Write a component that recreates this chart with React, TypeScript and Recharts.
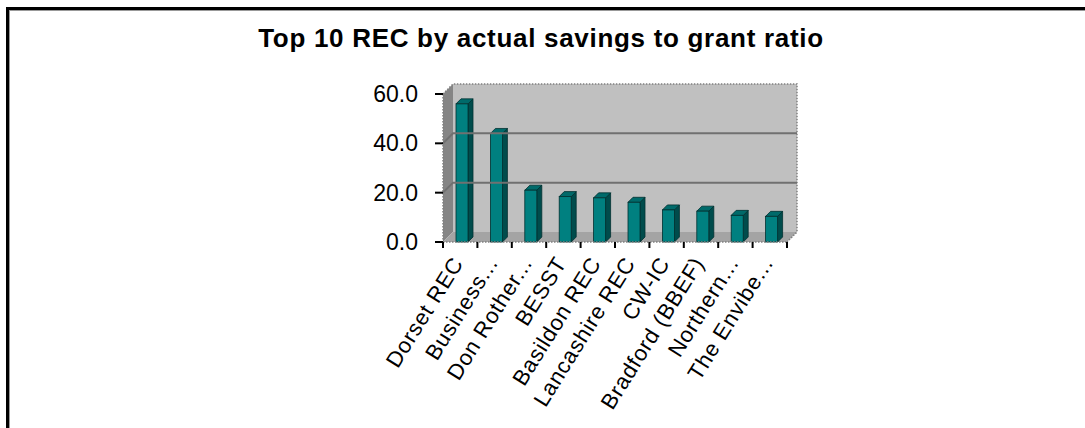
import React from "react";
import { BarChart, Bar, XAxis, YAxis, ReferenceLine } from "recharts";

// Top 10 REC ranked by actual savings / grant ratio
const recNames = [
  "Dorset REC",
  "Business...",
  "Don Rother...",
  "BESST",
  "Basildon REC",
  "Lancashire REC",
  "CW-IC",
  "Bradford (BBEF)",
  "Northern...",
  "The Envibe...",
];
const savingsRatio = [56.0, 44.0, 21.0, 18.4, 17.9, 16.1, 13.0, 12.5, 10.8, 10.4];
const yTicks = [0, 20, 40, 60];
const gridValues = [20, 40];

const data = recNames.map((name, i) => ({ name, ratio: savingsRatio[i] }));

// layout (page coords)
const W = 1085;
const H = 428;
const PLOT_LEFT = 443;
const PLOT_RIGHT = 787;
const PLOT_TOP = 94;
const PLOT_BOTTOM = 242;
const DEPTH = 10;
const FONT = "'Liberation Sans', Arial, sans-serif";

// 3D-ish bar: front face + top + side
function Bar3D(props: any) {
  const { x, y, width, height } = props;
  if (height == null || height <= 0) return null;
  const d = 5;
  const fx = x + 2;
  return (
    <g stroke="#003030" strokeWidth={0.8}>
      <polygon
        points={`${fx + width},${y} ${fx + width + d},${y - d} ${fx + width + d},${y + height - d} ${fx + width},${y + height}`}
        fill="#004c4c"
      />
      <polygon
        points={`${fx},${y} ${fx + d},${y - d} ${fx + width + d},${y - d} ${fx + width},${y}`}
        fill="#006a6a"
      />
      <rect x={fx} y={y} width={width} height={height} fill="#008080" />
    </g>
  );
}

// grid line pushed onto the back wall, with the slanted bit on the side wall
function WallGridLine(props: any) {
  const { x1, y1, x2, y2 } = props;
  if (x1 == null) return null;
  return (
    <g stroke="#707070" strokeWidth={2} fill="none">
      <polyline points={`${x1},${y1} ${x1 + DEPTH},${y1 - DEPTH} ${x2 + DEPTH},${y2 - DEPTH}`} />
    </g>
  );
}

function CategoryTick(props: any) {
  const { x, y, payload, index } = props;
  const bw = (PLOT_RIGHT - PLOT_LEFT) / recNames.length;
  return (
    <g>
      <line x1={x - bw / 2} y1={y} x2={x - bw / 2} y2={y + 6} stroke="#000" strokeWidth={2} />
      {index === recNames.length - 1 && (
        <line x1={x + bw / 2} y1={y} x2={x + bw / 2} y2={y + 6} stroke="#000" strokeWidth={2} />
      )}
      <text
        x={0}
        y={0}
        transform={`translate(${x + 4},${y + 21}) rotate(-58)`}
        textAnchor="end"
        fontSize={22}
        fontFamily={FONT}
        letterSpacing={0.8}
        fill="#000"
      >
        {payload.value}
      </text>
    </g>
  );
}

function Walls() {
  const L = PLOT_LEFT, R = PLOT_RIGHT, T = PLOT_TOP, B = PLOT_BOTTOM, d = DEPTH;
  return (
    <svg width={W} height={H} style={{ position: "absolute", left: 0, top: 0 }}>
      <text
        x={541}
        y={47}
        textAnchor="middle"
        fontSize={26}
        fontWeight="bold"
        fontFamily={FONT}
        letterSpacing={0.7}
        fill="#000"
      >
        Top 10 REC by actual savings to grant ratio
      </text>
      {/* back wall */}
      <rect x={L + d} y={T - d} width={R - L} height={B - T} fill="#c0c0c0" />
      {/* left wall */}
      <polygon points={`${L},${T} ${L + d},${T - d} ${L + d},${B - d} ${L},${B}`} fill="#858585" />
      {/* floor */}
      <polygon points={`${L},${B} ${L + d},${B - d} ${R + d},${B - d} ${R},${B}`} fill="#a4a4a4" />
      <g stroke="#808080" strokeWidth={1.5} strokeDasharray="1.5 1.5" fill="none">
        <polyline points={`${L},${T} ${L + d},${T - d} ${R + d},${T - d} ${R + d},${B - d} ${R},${B}`} />
        <line x1={L} y1={T} x2={L} y2={B} />
      </g>
    </svg>
  );
}

export default function App() {
  return (
    <div style={{ position: "fixed", left: 0, top: 0, width: W, height: H, background: "#fff", overflow: "hidden" }}>
      <div
        style={{
          position: "absolute",
          left: 6,
          top: 7,
          width: 1200,
          height: 600,
          borderTop: "3px solid #000",
          borderLeft: "3px solid #000",
          boxShadow: "inset 1px 1px 0 #999",
        }}
      />
      <Walls />
      <div style={{ position: "absolute", left: 0, top: 0 }}>
        <BarChart
          width={W}
          height={H}
          data={data}
          margin={{ top: PLOT_TOP, right: W - PLOT_RIGHT, bottom: 36, left: PLOT_LEFT - 60 }}
          barSize={12}
        >
          {gridValues.map((v) => (
            <ReferenceLine key={v} y={v} shape={<WallGridLine />} ifOverflow="visible" />
          ))}
          <XAxis
            dataKey="name"
            interval={0}
            height={150}
            tickSize={0}
            tickMargin={0}
            tickLine={false}
            axisLine={{ stroke: "#808080", strokeWidth: 1.5, strokeDasharray: "1.5 1.5" }}
            tick={<CategoryTick />}
          />
          <YAxis
            width={60}
            domain={[0, 60]}
            ticks={yTicks}
            tickFormatter={(v: number) => v.toFixed(1)}
            tickSize={8}
            tickMargin={17}
            tickLine={{ stroke: "#000", strokeWidth: 2 }}
            axisLine={false}
            tick={{ fontSize: 23, fill: "#000", fontFamily: FONT }}
          />
          <Bar dataKey="ratio" shape={<Bar3D />} isAnimationActive={false} />
        </BarChart>
      </div>
    </div>
  );
}
